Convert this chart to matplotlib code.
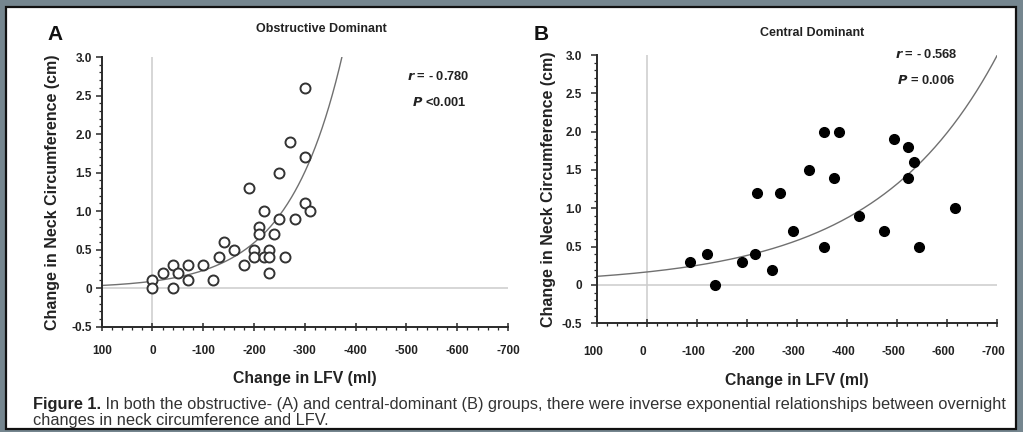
import numpy as np
import matplotlib
matplotlib.use("Agg")
import matplotlib.pyplot as plt
import matplotlib.transforms as mtransforms
from matplotlib.patches import Rectangle
from matplotlib.ticker import MultipleLocator, FixedLocator

plt.rcParams['font.family'] = ['Liberation Sans', 'DejaVu Sans']

# ---- data: panel A (obstructive dominant), open circles ----
lfv_A = [-300, -270, -300, -250, -190, -300, -310, -220, -250, -280,
         -210, -210, -240, -140, -160, -200, -230, -200, -220, -230,
         -260, -130, -230, -180, -100, -70, -40, -50, -20, -120,
         -70, 0, 0, -40]
neck_A = [2.6, 1.9, 1.7, 1.5, 1.3, 1.1, 1.0, 1.0, 0.9, 0.9,
          0.8, 0.7, 0.7, 0.6, 0.5, 0.5, 0.5, 0.4, 0.4, 0.4,
          0.4, 0.4, 0.2, 0.3, 0.3, 0.3, 0.3, 0.2, 0.2, 0.1,
          0.1, 0.1, 0.0, 0.0]

# ---- data: panel B (central dominant), filled circles ----
lfv_B = [-85, -120, -135, -190, -215, -220, -250, -265, -292, -323,
         -353, -353, -373, -384, -423, -474, -493, -522, -522, -534,
         -543, -615]
neck_B = [0.3, 0.4, 0.0, 0.3, 0.4, 1.2, 0.2, 1.2, 0.7, 1.5,
          2.0, 0.5, 1.4, 2.0, 0.9, 0.7, 1.9, 1.8, 1.4, 1.6,
          0.5, 1.0]

# exponential fits y = a * exp(k * (-LFV))
fit_A = (0.09, 0.0094)
fit_B = (0.17, 0.0041)

titles = ["Obstructive Dominant", "Central Dominant"]
letters = ["A", "B"]
stats = [("r = - 0.780", "P <0.001"), ("r = - 0.568", "P = 0.006")]
x_ticks = [100, 0, -100, -200, -300, -400, -500, -600, -700]
y_ticks = [-0.5, 0, 0.5, 1.0, 1.5, 2.0, 2.5, 3.0]
y_ticklabels = ["-0.5", "0", "0.5", "1.0", "1.5", "2.0", "2.5", "3.0"]
x_ticklabels = ["100", "0", "-100", "-200", "-300", "-400", "-500", "-600", "-700"]

W, H = 1023, 432
fig = plt.figure(figsize=(W / 100, H / 100), dpi=100)
fig.patch.set_facecolor("#75868f")

# white page with black border
fig.patches.append(Rectangle((6 / W, 3 / H), (1016 - 6) / W, (425 - 3) / H,
                             transform=fig.transFigure, facecolor="white",
                             edgecolor="#111111", linewidth=1.6, zorder=-5))

axA = fig.add_axes([101.7 / W, (H - 326.7) / H, (508 - 101.7) / W, (326.7 - 57) / H])
axB = fig.add_axes([597.3 / W, (H - 323.3) / H, (997.3 - 597.3) / W, (323.3 - 55) / H])

for i, (ax, xs, ys, fit) in enumerate([(axA, lfv_A, neck_A, fit_A), (axB, lfv_B, neck_B, fit_B)]):
    ax.set_zorder(2)
    ax.set_facecolor("none")
    ax.set_xlim(100, -700)
    ax.set_ylim(-0.5, 3.0)
    for s in ["top", "right"]:
        ax.spines[s].set_visible(False)
    for s in ["left", "bottom"]:
        ax.spines[s].set_color("#2a2a2a")
        ax.spines[s].set_linewidth(1.4)
    ax.axhline(0, color="#cccccc", lw=1.1, zorder=1)
    ax.axvline(0, color="#cccccc", lw=1.1, zorder=1)
    xx = np.linspace(100, -700, 600)
    yy = fit[0] * np.exp(fit[1] * (-xx))
    ax.plot(xx, yy, color="#707070", lw=1.0, zorder=2, clip_on=True)
    if i == 0:
        ax.plot(xs, ys, linestyle="none", marker="o", ms=7.2, mfc="white",
                mec="#333333", mew=1.4, zorder=3)
    else:
        ax.plot(xs, ys, linestyle="none", marker="o", ms=7.0, mfc="black",
                mec="black", zorder=3)
    ax.xaxis.set_major_locator(FixedLocator(x_ticks))
    ax.set_xticklabels(x_ticklabels)
    ax.xaxis.set_minor_locator(MultipleLocator(20))
    ax.yaxis.set_major_locator(FixedLocator(y_ticks))
    ax.set_yticklabels(y_ticklabels)
    ax.yaxis.set_minor_locator(MultipleLocator(0.1))
    ax.tick_params(axis="x", which="major", direction="inout", length=6, width=1.1,
                   color="#2a2a2a", labelsize=8.5, pad=10 if i == 0 else 13,
                   labelcolor="#222222")
    ax.tick_params(axis="x", which="minor", direction="out", length=2.5, width=0.9,
                   color="#2a2a2a")
    ax.tick_params(axis="y", which="major", direction="out", length=4, width=1.1,
                   color="#2a2a2a", labelsize=8.5, pad=3 if i == 0 else 7,
                   labelcolor="#222222")
    ax.tick_params(axis="y", which="minor", direction="out", length=2.2, width=0.9,
                   color="#2a2a2a")
    for lab in ax.get_xticklabels() + ax.get_yticklabels():
        lab.set_fontweight("bold")
    if i == 1:
        shift = mtransforms.ScaledTranslation(-4 / 100, 0, fig.dpi_scale_trans)
        for lab in ax.get_xticklabels():
            lab.set_transform(lab.get_transform() + shift)
    ax.set_xlabel("Change in LFV (ml)", fontsize=11.3, fontweight="bold",
                  color="#222222", labelpad=10 if i == 0 else 11)
    ax.set_ylabel("Change in Neck Circumference (cm)", fontsize=11.5,
                  fontweight="bold", color="#222222", labelpad=8 if i == 0 else 4)

# titles, letters, stats
fig.text(321 / W, 1 - 29 / H, titles[0], fontsize=9, fontweight="bold",
         ha="center", va="center", color="#222222")
fig.text(812 / W, 1 - 33 / H, titles[1], fontsize=9, fontweight="bold",
         ha="center", va="center", color="#222222")
fig.text(55 / W, 1 - 35 / H, letters[0], fontsize=15, fontweight="bold",
         ha="center", va="center", color="#111111")
fig.text(541 / W, 1 - 34 / H, letters[1], fontsize=15, fontweight="bold",
         ha="center", va="center", color="#111111")

for (xr, yr, xp, yp), (rs, ps) in zip([(407, 77, 412, 102), (895, 55, 897, 80)], stats):
    fig.text(xr / W, 1 - yr / H, "$\\mathbfit{r}$" + rs[1:], fontsize=9.3, fontweight="bold",
             ha="left", va="center", color="#222222")
    fig.text(xp / W, 1 - yp / H, "$\\mathbfit{P}$" + ps[1:], fontsize=9.3, fontweight="bold",
             ha="left", va="center", color="#222222")

# caption
cap1_bold = "Figure 1."
cap1_rest = (" In both the obstructive- (A) and central-dominant (B) groups, there were "
             "inverse exponential relationships between overnight")
cap2 = "changes in neck circumference and LFV."
cap_x = 33
t1 = fig.text(cap_x / W, 1 - 404 / H, cap1_bold, fontsize=11.8, fontweight="bold",
              ha="left", va="center", color="#222222")
fig.canvas.draw()
bb = t1.get_window_extent()
fig.text(bb.x1 / W, 1 - 404 / H, cap1_rest, fontsize=11.8, ha="left", va="center",
         color="#333333")
fig.text(cap_x / W, 1 - 420 / H, cap2, fontsize=11.8, ha="left", va="center",
         color="#333333")

fig.savefig("out.png", dpi=100, facecolor=fig.get_facecolor())
